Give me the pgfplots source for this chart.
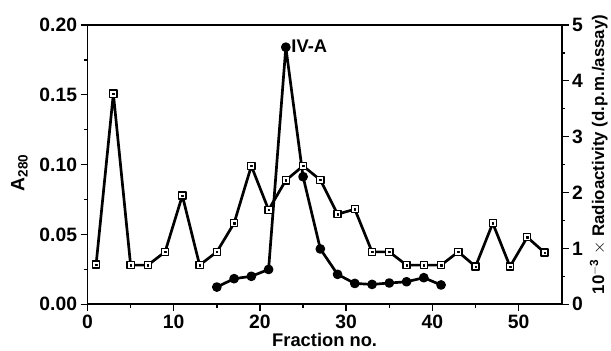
\documentclass[border=0pt]{standalone}
\usepackage{pgfplots}
\pgfplotsset{compat=1.18}
\usepackage{fontspec}
\setmainfont{Liberation Sans}
\newcommand{\lbl}{\fontsize{18.5}{22}\selectfont\bfseries}
\newcommand{\tlbl}{\fontsize{19.5}{23}\selectfont\bfseries}
\begin{document}
\begin{tikzpicture}[line join=round]
\begin{axis}[
  scale only axis,
  width=477bp, height=281bp,
  xmin=0, xmax=55, ymin=0, ymax=0.2,
  axis y line*=left,
  axis x line*=bottom,
  axis line style={line width=1.8bp},
  xtick={0,10,20,30,40,50},
  minor xtick={5,15,25,35,45},
  ytick={0,0.05,0.1,0.15,0.2},
  minor ytick={0.025,0.075,0.125,0.175},
  tick align=outside,
  major tick length=7bp, minor tick length=3.5bp,
  every tick/.style={line width=1.5bp, black},
  yticklabel style={/pgf/number format/.cd, fixed, fixed zerofill, precision=2, assume math mode=true},
  xticklabel style={/pgf/number format/assume math mode=true},
  tick label style={font=\tlbl},
  ylabel={A\textsubscript{280}},
  ylabel style={font=\fontsize{19.5}{23}\selectfont\bfseries, yshift=5bp, xshift=-8bp},
  xlabel={Fraction no.},
  xlabel style={font=\lbl, yshift=2bp},
  clip=false,
]
\addplot[black, line width=2.7bp, mark=square*, mark size=3.6bp,
  mark options={fill=white, line width=1.3bp, solid}] coordinates {
  (1,0.0285) (3,0.1507) (5,0.028) (7,0.028) (9,0.0375) (11,0.0778)
  (13,0.028) (15,0.0375) (17,0.058) (19,0.099) (21,0.0676) (23,0.0887)
  (25,0.099) (27,0.089) (29,0.0645) (31,0.068) (33,0.0375) (35,0.0375)
  (37,0.028) (39,0.028) (41,0.028) (43,0.0375) (45,0.027) (47,0.058)
  (49,0.027) (51,0.048) (53,0.037)
};
\addplot[only marks, black, mark=square*, mark size=0.7bp] coordinates {
  (1,0.0285) (3,0.1507) (5,0.028) (7,0.028) (9,0.0375) (11,0.0778)
  (13,0.028) (15,0.0375) (17,0.058) (19,0.099) (21,0.0676) (23,0.0887)
  (25,0.099) (27,0.089) (29,0.0645) (31,0.068) (33,0.0375) (35,0.0375)
  (37,0.028) (39,0.028) (41,0.028) (43,0.0375) (45,0.027) (47,0.058)
  (49,0.027) (51,0.048) (53,0.037)
};
\addplot[black, line width=2.7bp, mark=*, mark size=3.5bp] coordinates {
  (15,0.0123) (17,0.0183) (19,0.020) (21,0.0249) (23,0.184) (25,0.0913)
  (27,0.0396) (29,0.0214) (31,0.0149) (33,0.0142) (35,0.0152) (37,0.0161)
  (39,0.019) (41,0.0138)
};
\node[anchor=west, font=\lbl, inner sep=2bp] at (axis cs:23.4,0.185) {IV-A};
\end{axis}
\begin{axis}[
  scale only axis,
  width=477bp, height=281bp,
  xmin=0, xmax=55, ymin=0, ymax=5,
  axis y line*=right,
  axis x line=none,
  axis line style={line width=1.8bp},
  ytick={0,1,2,3,4,5},
  minor ytick={0.5,1.5,2.5,3.5,4.5},
  tick align=outside,
  major tick length=7bp, minor tick length=3.5bp,
  every tick/.style={line width=1.5bp, black},
  yticklabel style={/pgf/number format/assume math mode=true},
  tick label style={font=\tlbl},
  ylabel={10\textsuperscript{$-$3} $\times$ Radioactivity (d.p.m./assay)},
  ylabel style={font=\fontsize{17}{20}\selectfont\bfseries, xshift=10bp},
]
\end{axis}
\draw[line width=1.8bp] (0,281bp) -- (477bp,281bp);
\path[use as bounding box] (-88bp,-47bp) rectangle (523bp,306bp);
\end{tikzpicture}
\end{document}
